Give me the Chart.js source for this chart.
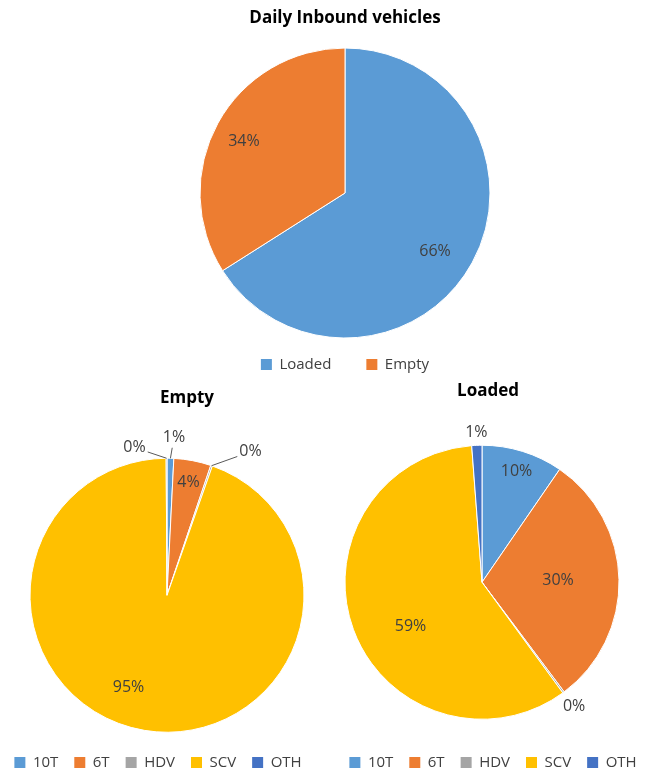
<!DOCTYPE html>
<html>
<head>
<meta charset="utf-8">
<script src="https://cdn.jsdelivr.net/npm/chart.js@4.4.1/dist/chart.umd.min.js"></script>
<style>
  html, body { margin: 0; padding: 0; background: #fff; width: 654px; height: 772px; overflow: hidden; }
  canvas { position: absolute; }
</style>
</head>
<body>
<canvas id="daily" width="430" height="382" style="left:130px;top:0"></canvas>
<canvas id="empty" width="334" height="405" style="left:0;top:375px"></canvas>
<canvas id="loaded" width="344" height="405" style="left:310px;top:375px"></canvas>
<script>
// data
const dailyLabels = ["Loaded", "Empty"];
const dailyValues = [66, 34];

const typeLabels = ["10T", "6T", "HDV", "SCV", "OTH"];
const emptyValues = [8, 44, 2, 950, 1];
const loadedValues = [96, 302, 2, 589, 12];

const typeColors = ["#5B9BD5", "#ED7D31", "#A5A5A5", "#FFC000", "#4472C4"];
const dailyColors = ["#5B9BD5", "#ED7D31"];

Chart.defaults.font.family = "'Open Sans', sans-serif";
Chart.defaults.color = "#404040";

// percent labels on the slices, [radius fraction, dx, dy] per slice
const sliceLabels = {
  id: "sliceLabels",
  afterDatasetsDraw(chart, args, opts) {
    const ctx = chart.ctx;
    const arcs = chart.getDatasetMeta(0).data;
    const vals = chart.data.datasets[0].data;
    const total = vals.reduce((a, b) => a + b, 0);
    ctx.save();
    ctx.font = "16px 'Open Sans', sans-serif";
    ctx.textAlign = "center";
    ctx.textBaseline = "middle";
    ctx.strokeStyle = "#595959";
    ctx.lineWidth = 1;
    arcs.forEach((arc, i) => {
      const [f, dx, dy] = opts.place[i];
      const mid = (arc.startAngle + arc.endAngle) / 2;
      const r = arc.outerRadius;
      const x = arc.x + Math.cos(mid) * r * f + dx;
      const y = arc.y + Math.sin(mid) * r * f + dy;
      const text = Math.round((vals[i] / total) * 100) + "%";
      if (opts.leaders && opts.leaders[i]) {
        const ax = arc.x + Math.cos(mid) * r;
        const ay = arc.y + Math.sin(mid) * r;
        const hw = ctx.measureText(text).width / 2 + 2;
        const hh = 10;
        const vx = ax - x, vy = ay - y;
        const t = Math.min(hw / Math.abs(vx || 1e-6), hh / Math.abs(vy || 1e-6));
        ctx.beginPath();
        ctx.moveTo(ax, ay);
        ctx.lineTo(x + vx * t, y + vy * t);
        ctx.stroke();
      }
      ctx.fillStyle = "#404040";
      ctx.fillText(text, x, y);
    });
    ctx.restore();
  }
};

// move title / legend sideways (excel centres them differently from the pie)
const shiftBlocks = {
  id: "shiftBlocks",
  afterLayout(chart, args, opts) {
    if (opts.title) {
      chart.titleBlock.left += opts.title;
      chart.titleBlock.right += opts.title;
    }
    if (opts.legend) {
      chart.legend.left += opts.legend;
      chart.legend.right += opts.legend;
    }
  }
};

// legend squares without the white slice border
const plainBoxes = (chart) =>
  Chart.overrides.doughnut.plugins.legend.labels
    .generateLabels(chart)
    .map((l) => ({ ...l, lineWidth: 0 }));

const makePie = (id, labels, values, colors, o) =>
  new Chart(document.getElementById(id), {
    type: "pie",
    data: {
      labels: labels,
      datasets: [{
        data: values,
        backgroundColor: colors,
        borderColor: "#fff",
        borderWidth: 1,
        radius: o.radius,
        clip: false
      }]
    },
    options: {
      responsive: false,
      devicePixelRatio: 1,
      animation: false,
      events: [],
      plugins: {
        title: {
          display: true,
          text: o.title,
          color: "#000",
          font: { size: 17, weight: "bold" },
          padding: o.titlePad
        },
        legend: {
          position: "bottom",
          labels: {
            boxWidth: 11,
            boxHeight: 11,
            padding: o.legendPad,
            color: "#404040",
            font: { size: 15 },
            generateLabels: plainBoxes
          }
        },
        tooltip: { enabled: false },
        sliceLabels: { place: o.place, leaders: o.leaders },
        shiftBlocks: o.shift || {}
      }
    },
    plugins: [sliceLabels, shiftBlocks]
  });

makePie("daily", dailyLabels, dailyValues, dailyColors, {
  title: "Daily Inbound vehicles",
  radius: 145,
  titlePad: { top: 7.8, bottom: 35.8 },
  legendPad: 35,
  place: [[0.74, -4, 7], [0.78, -2, 3]]
});

makePie("empty", typeLabels, emptyValues, typeColors, {
  title: "Empty",
  radius: 137,
  titlePad: { top: 12.8, bottom: 43.3 },
  legendPad: 16,
  place: [[1.15, 3, 0], [0.84, 0, 0], [1.2, 30, 12], [0.73, -22, -6], [1.1, -32, 3]],
  leaders: [true, false, true, false, true],
  shift: { title: 20, legend: -9 }
});

makePie("loaded", typeLabels, loadedValues, typeColors, {
  title: "Loaded",
  radius: 137,
  titlePad: { top: 5.8, bottom: 24.3 },
  legendPad: 16,
  place: [[0.85, 0, 0], [0.555, 0, 0], [1.13, 0, 0], [0.61, 7, 15], [1.095, 0, 0]],
  shift: { title: 6, legend: 11 }
});
</script>
</body>
</html>
